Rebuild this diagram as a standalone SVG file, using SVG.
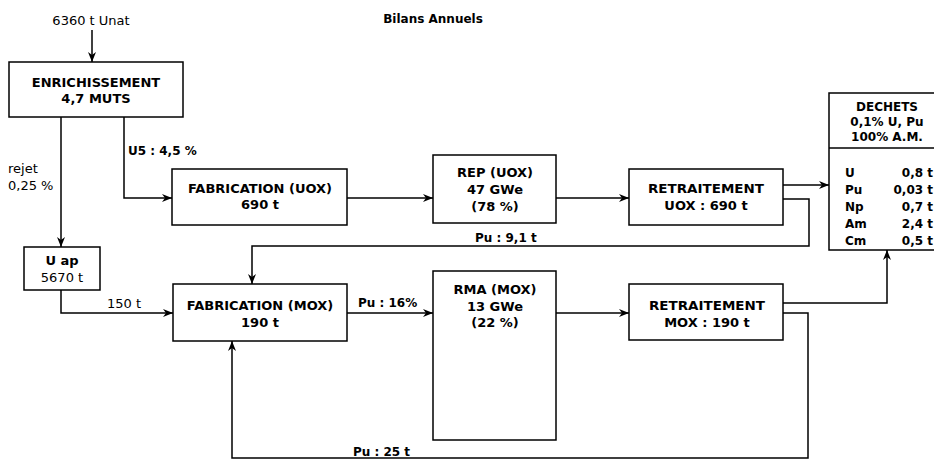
<svg xmlns="http://www.w3.org/2000/svg" width="934" height="461" viewBox="0 0 934 461">
<defs>
<marker id="ah" markerWidth="10" markerHeight="8" refX="10" refY="4" orient="auto" markerUnits="userSpaceOnUse">
<path d="M0,0 L10,4 L0,8 L3,4 z" fill="#000"/>
</marker>
<style>
.box{fill:#fff;stroke:#000;stroke-width:1.5}
.ln{fill:none;stroke:#000;stroke-width:1.5;marker-end:url(#ah)}
text{font-family:"DejaVu Sans","Liberation Sans",sans-serif;fill:#000}
.b{font-weight:bold;font-size:13px}
.c{text-anchor:middle}
.s{font-size:12px;font-weight:bold}
.r{font-size:13px}
.e{text-anchor:end}
</style>
</defs>
<rect width="934" height="461" fill="#fff"/>
<text class="s c" x="433" y="23">Bilans Annuels</text>
<text class="r c" x="91" y="25">6360 t Unat</text>

<g id="connectors">
<path class="ln" d="M92,30 V62"/>
<path class="ln" d="M61,117 V247"/>
<path class="ln" d="M124,117 V198 H172"/>
<path class="ln" d="M61,290 V313 H173"/>
<path class="ln" d="M347,198 H433"/>
<path class="ln" d="M556,198 H629"/>
<path class="ln" d="M783,185 H829"/>
<path class="ln" d="M783,199 H809 V246 H252 V284"/>
<path class="ln" d="M347,313 H433"/>
<path class="ln" d="M556,313 H629"/>
<path class="ln" d="M783,303 H887 V250"/>
<path class="ln" d="M783,313 H808 V458 H232 V341"/>
<text class="s" x="128" y="155">U5 : 4,5 %</text>
<text class="r" x="8" y="173">rejet</text>
<text class="r" x="8" y="190">0,25 %</text>
<text class="r" x="107" y="308">150 t</text>
<text class="s" x="475" y="242">Pu : 9,1 t</text>
<text class="s" x="358" y="307">Pu : 16%</text>
<text class="s" x="353" y="456">Pu : 25 t</text>
</g>

<g id="enrichissement">
<rect class="box" x="9" y="62" width="174" height="55"/>
<text class="b c" x="96" y="87">ENRICHISSEMENT</text>
<text class="b c" x="96" y="103">4,7 MUTS</text>
</g>
<g id="fabrication-uox">
<rect class="box" x="172" y="169" width="175" height="56"/>
<text class="b c" x="260" y="193">FABRICATION (UOX)</text>
<text class="b c" x="260" y="209">690 t</text>
</g>
<g id="rep-uox">
<rect class="box" x="433" y="155" width="123" height="68"/>
<text class="b c" x="495" y="177">REP (UOX)</text>
<text class="b c" x="495" y="194">47 GWe</text>
<text class="b c" x="495" y="211">(78 %)</text>
</g>
<g id="retraitement-uox">
<rect class="box" x="629" y="169" width="154" height="56"/>
<text class="b c" x="706" y="193" textLength="116" lengthAdjust="spacingAndGlyphs">RETRAITEMENT</text>
<text class="b c" x="706" y="210">UOX : 690 t</text>
</g>
<g id="dechets">
<rect class="box" x="829" y="93" width="115" height="157"/>
<line x1="829" y1="148" x2="944" y2="148" stroke="#000" stroke-width="1.5"/>
<text class="s c" x="887" y="111">DECHETS</text>
<text class="s c" x="887" y="126">0,1% U, Pu</text>
<text class="s c" x="887" y="141">100% A.M.</text>
<text class="s" x="845" y="177">U</text><text class="s e" x="933" y="177">0,8 t</text>
<text class="s" x="845" y="194">Pu</text><text class="s e" x="933" y="194">0,03 t</text>
<text class="s" x="845" y="211">Np</text><text class="s e" x="933" y="211">0,7 t</text>
<text class="s" x="845" y="228">Am</text><text class="s e" x="933" y="228">2,4 t</text>
<text class="s" x="845" y="245">Cm</text><text class="s e" x="933" y="245">0,5 t</text>
</g>
<g id="u-ap">
<rect class="box" x="24" y="247" width="76" height="43"/>
<text class="b c" x="62" y="265">U ap</text>
<text class="r c" x="62" y="282">5670 t</text>
</g>
<g id="fabrication-mox">
<rect class="box" x="173" y="284" width="174" height="57"/>
<text class="b c" x="260" y="310">FABRICATION (MOX)</text>
<text class="b c" x="260" y="327">190 t</text>
</g>
<g id="rma-mox">
<rect class="box" x="433" y="271" width="123" height="169"/>
<text class="b c" x="495" y="294">RMA (MOX)</text>
<text class="b c" x="495" y="311">13 GWe</text>
<text class="b c" x="495" y="327">(22 %)</text>
</g>
<g id="retraitement-mox">
<rect class="box" x="629" y="284" width="154" height="56"/>
<text class="b c" x="707" y="310" textLength="116" lengthAdjust="spacingAndGlyphs">RETRAITEMENT</text>
<text class="b c" x="707" y="327">MOX : 190 t</text>
</g>
</svg>
